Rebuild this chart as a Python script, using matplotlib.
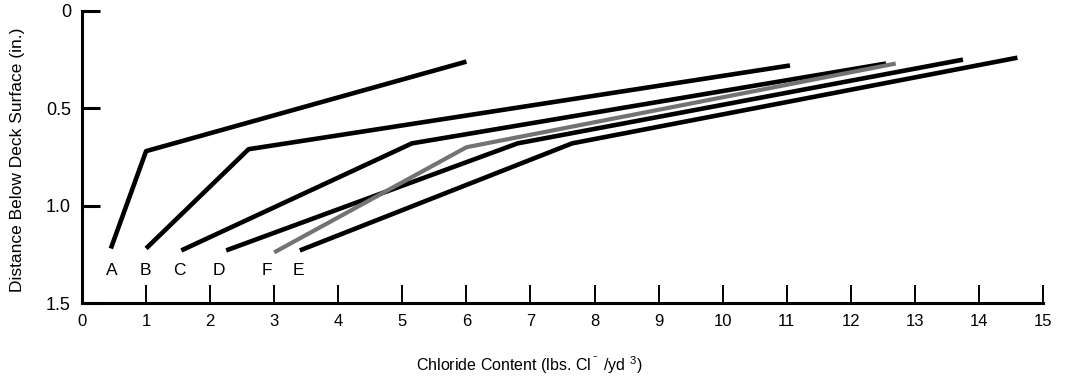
import matplotlib
matplotlib.use('Agg')
import matplotlib.pyplot as plt

plt.rcParams['font.family'] = ['Liberation Sans', 'DejaVu Sans']
plt.rcParams['mathtext.default'] = 'regular'

# chloride profiles: concentration (lbs/yd3) vs depth (in.)
names = ['A', 'B', 'C', 'D', 'F', 'E']
conc = {
    'A': [0.45, 1.0, 6.0],
    'B': [1.0, 2.6, 11.05],
    'C': [1.55, 5.15, 12.55],
    'D': [2.25, 6.8, 13.75],
    'F': [3.0, 6.0, 12.7],
    'E': [3.4, 7.65, 14.6],
}
depth = {
    'A': [1.22, 0.72, 0.26],
    'B': [1.22, 0.71, 0.28],
    'C': [1.23, 0.68, 0.27],
    'D': [1.23, 0.68, 0.25],
    'F': [1.24, 0.70, 0.27],
    'E': [1.23, 0.68, 0.24],
}
label_x = [0.47, 0.99, 1.52, 2.13, 2.88, 3.38]
label_y = 1.335

x_ticks = list(range(0, 16))
y_ticks = [0, 0.5, 1.0, 1.5]
y_ticklabels = ['0', '0.5', '1.0', '1.5']

fig = plt.figure(figsize=(10.72, 3.78), dpi=100)
ax = fig.add_axes([0.0765, 0.1984, 0.8965, 0.7726])

for n in names:
    col = '0.45' if n == 'F' else 'black'
    lw = 3.0 if n == 'F' else 3.3
    ax.plot(conc[n], depth[n], color=col, lw=lw, solid_capstyle='butt', clip_on=False)

for n, lx in zip(names, label_x):
    ax.text(lx, label_y, n, ha='center', va='center', fontsize=12.5)

ax.set_xlim(0, 15)
ax.set_ylim(1.5, 0)
ax.spines['top'].set_visible(False)
ax.spines['right'].set_visible(False)
ax.spines['left'].set_linewidth(2.2)
ax.spines['bottom'].set_linewidth(2.2)

ax.set_xticks(x_ticks)
ax.set_yticks(y_ticks)
ax.set_yticklabels(y_ticklabels)
ax.tick_params(axis='x', direction='in', length=13, width=1.4, labelsize=12, pad=8)
ax.tick_params(axis='y', direction='in', length=13, width=2.2, labelsize=13, pad=8)

ax.set_ylabel('Distance Below Deck Surface (in.)', fontsize=12.5)
ax.yaxis.set_label_coords(-0.059, 0.49)
fig.text(529 / 1072, 1 - 365 / 378, 'Chloride Content (lbs. Cl$^{^-}$ /yd $^3$)',
         ha='center', va='center', fontsize=11.5)

plt.savefig('out.png', dpi=100)
plt.close('all')
